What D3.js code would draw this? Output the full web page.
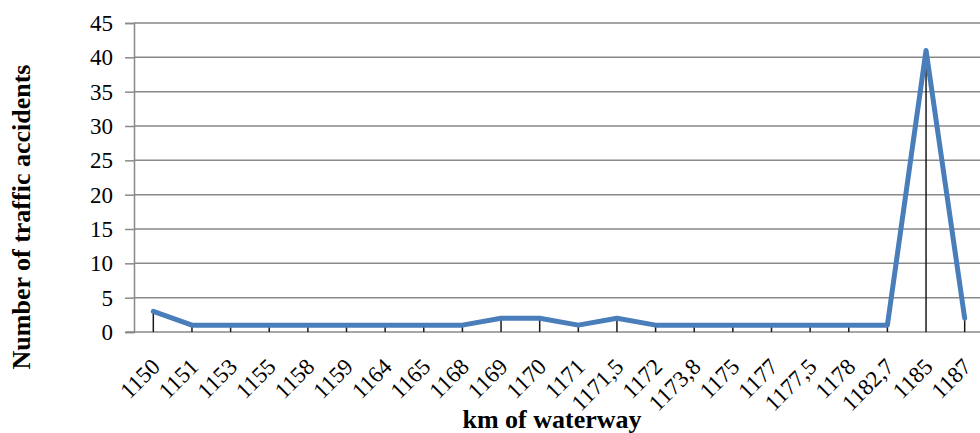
<!DOCTYPE html>
<html>
<head>
<meta charset="utf-8">
<script src="https://cdn.jsdelivr.net/npm/d3@7"></script>
<style>
  body { margin: 0; background: #fff; }
  svg { display: block; font-family: "Liberation Serif", "Times New Roman", serif; }
</style>
</head>
<body>
<svg id="chart" width="980" height="433"></svg>
<script>
// km markers along the waterway and accident counts
const kms = ["1150", "1151", "1153", "1155", "1158", "1159", "1164", "1165", "1168", "1169", "1170",
  "1171", "1171,5", "1172", "1173,8", "1175", "1177", "1177,5", "1178", "1182,7", "1185", "1187"];
const accidents = [3, 1, 1, 1, 1, 1, 1, 1, 1, 2, 2, 1, 2, 1, 1, 1, 1, 1, 1, 1, 41, 2];
const yTicks = [0, 5, 10, 15, 20, 25, 30, 35, 40, 45];

const svg = d3.select('#chart');
const plotL = 134, plotR = 984, plotT = 23, plotB = 332;

const x = d3.scaleBand().domain(kms).range([plotL, plotR]);
const y = d3.scaleLinear().domain([0, 45]).range([plotB, plotT]);

// horizontal grid
svg.append('g')
  .selectAll('line')
  .data(yTicks.filter(d => d > 0))
  .enter().append('line')
  .attr('x1', plotL).attr('x2', plotR)
  .attr('y1', d => y(d)).attr('y2', d => y(d))
  .attr('stroke', '#898989').attr('stroke-width', 1.5);

// y axis
const yAxis = d3.axisLeft(y).tickValues(yTicks).tickSize(9).tickPadding(12);
const gy = svg.append('g').attr('transform', `translate(${plotL},0)`).call(yAxis);
gy.select('.domain').attr('stroke', '#898989').attr('stroke-width', 1.5);
gy.selectAll('.tick line').attr('stroke', '#898989').attr('stroke-width', 1.5);
gy.selectAll('.tick text').attr('font-size', 23).attr('fill', '#000')
  .attr('font-family', '"Liberation Serif", serif');

// x axis line
svg.append('line')
  .attr('x1', plotL - 8).attr('x2', plotR)
  .attr('y1', y(0)).attr('y2', y(0))
  .attr('stroke', '#898989').attr('stroke-width', 1.5);

const cx = d => x(d) + x.bandwidth() / 2;

// drop lines
svg.append('g')
  .selectAll('line')
  .data(kms)
  .enter().append('line')
  .attr('x1', d => cx(d)).attr('x2', d => cx(d))
  .attr('y1', (d, i) => y(accidents[i])).attr('y2', y(0))
  .attr('stroke', '#1a1a1a').attr('stroke-width', 1.5);

// series line
const line = d3.line()
  .x((d, i) => cx(kms[i]))
  .y(d => y(d));
svg.append('path')
  .datum(accidents)
  .attr('d', line)
  .attr('fill', 'none')
  .attr('stroke', '#4A7EBB')
  .attr('stroke-width', 5)
  .attr('stroke-linejoin', 'round')
  .attr('stroke-linecap', 'round');

// x labels
svg.append('g')
  .selectAll('text')
  .data(kms)
  .enter().append('text')
  .attr('transform', d => `translate(${cx(d) + 8},${y(0) + 36}) rotate(-45)`)
  .attr('text-anchor', 'end')
  .attr('font-size', 23)
  .text(d => d);

// axis titles
svg.append('text')
  .attr('transform', 'translate(30,217) rotate(-90)')
  .attr('text-anchor', 'middle')
  .attr('font-size', 26).attr('font-weight', 'bold')
  .text('Number of traffic accidents');

svg.append('text')
  .attr('x', 552).attr('y', 428)
  .attr('text-anchor', 'middle')
  .attr('font-size', 26).attr('font-weight', 'bold')
  .text('km of waterway');
</script>
</body>
</html>
